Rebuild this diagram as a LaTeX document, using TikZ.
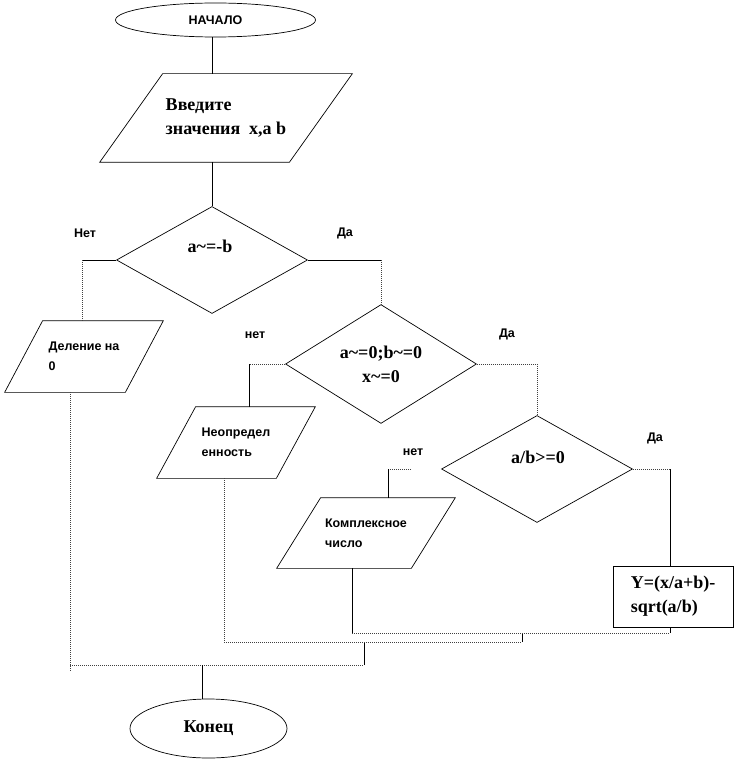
\documentclass[tikz,border=0pt]{standalone}
\usepackage{fontspec}
\setmainfont{Liberation Serif}
\setsansfont{Liberation Sans}
\usetikzlibrary{shapes.geometric}

\begin{document}
\begin{tikzpicture}[x=1pt,y=-1pt,line width=0.7pt,
        bigtext/.style={font=\fontsize{18}{24}\selectfont\bfseries,align=left,inner sep=0pt},
        smalltext/.style={font=\sffamily\bfseries\fontsize{12.5}{20}\selectfont,align=left,inner sep=0pt},
        term/.style={ellipse,draw,inner sep=0pt},
        iobox/.style={rectangle,inner sep=0pt},
        cond/.style={diamond,draw,minimum width=191,minimum height=107,inner sep=0pt},
        dots/.style={black!75,dash pattern=on 1pt off 1pt}]
        \useasboundingbox (0,0) rectangle (735,762);

        % Start and input
        \node[term,minimum width=200,minimum height=34,smalltext] (nachalo) at (215.5,20) {НАЧАЛО};
        \node[iobox,minimum width=252,minimum height=88,bigtext] (vvod) at (226,118) {Введите\\значения\ \ x,a b};

        % Conditions
        \node[cond] (usl1) at (212,260) {};
        \node[bigtext] (usl1txt) at (210,246) {a\textasciitilde=-b};
        \node[cond,bigtext,align=center] (usl2) at (381,364) {a\textasciitilde=0;b\textasciitilde=0\\x\textasciitilde=0};
        \node[cond] (usl3) at (537,469) {};
        \node[bigtext] (usl3txt) at (538,457) {a/b>=0};

        % Outputs
        \node[iobox,minimum width=158,minimum height=71,smalltext] (del) at (84,356.5) {Деление на\\0};
        \node[iobox,minimum width=158,minimum height=71,smalltext] (neopr) at (236,442.5) {Неопредел\\енность};
        \node[iobox,minimum width=178,minimum height=70,smalltext] (kompl) at (366,533) {Комплексное\\число};
        \node[draw,minimum width=120,minimum height=61,bigtext] (itog) at (673,596.5) {Y=(x/a+b)-\\sqrt(a/b)};

        % Slanted sides of the input and output boxes
        \foreach \n/\s in {vvod/63, del/38, neopr/39, kompl/44} {
            \draw ([xshift=\s]\n.north west) -- (\n.north east)
                -- ([xshift=-\s]\n.south east) -- (\n.south west) -- cycle;
        }

        % End
        \node[term,minimum width=157,minimum height=59,bigtext] (konec) at (208.5,728.5) {Конец};

        % Branch labels
        \foreach \name/\x/\y/\txt in {l1/85/233/Нет, r1/345/233/Да, l2/255/335/нет,
                r2/507/334/Да, l3/413/452/нет, r3/655/438/Да} {
            \node[smalltext] (lab\name) at (\x,\y) {\txt};
        }

        % Corner points of the connectors
        \coordinate (ne1) at (82,260);
        \coordinate (da1) at (381,260);
        \coordinate (ne2) at (249,364);
        \coordinate (da2) at (537,364);
        \coordinate (ne3) at (411,469);
        \coordinate (ne3b) at (388,469);
        \coordinate (da3) at (670,469);
        \coordinate (j1) at (70,665);
        \coordinate (j1b) at (70,672);
        \coordinate (j2) at (364,665);
        \coordinate (j3) at (364,642);
        \coordinate (j4) at (224,642);
        \coordinate (j5) at (522,642);
        \coordinate (j6) at (522,633);
        \coordinate (j7) at (352,633);
        \coordinate (j8) at (670,633);
        \coordinate (j9) at (202,665);

        % Main line
        \draw (nachalo.south -| usl1) -- (usl1 |- vvod.north);
        \draw (vvod.south -| usl1) -- (usl1.north);

        % First condition
        \draw (usl1.west) -- (ne1);
        \draw[dots] (ne1) -- (ne1 |- del.north);
        \draw (usl1.east) -- (da1);
        \draw[dots] (da1) -- (usl2.north);

        % Second condition
        \draw[dots] (usl2.west) -- (ne2);
        \draw (ne2) -- (ne2 |- neopr.north);
        \draw[dots] (usl2.east) -- (da2) -- (usl3.north);

        % Third condition
        \draw[dots] (usl3.east) -- (da3);
        \draw (da3) -- (da3 |- itog.north);
        \draw[dots] (ne3) -- (ne3b);
        \draw (ne3b) -- (ne3b |- kompl.north);

        % Joining lines at the bottom
        \draw[dots] (del.south -| j1) -- (j1b);
        \draw[dots] (j1) -- (j2);
        \draw (j2) -- (j3);
        \draw[dots] (neopr.south -| j4) -- (j4) -- (j5);
        \draw (j5) -- (j6);
        \draw (kompl.south -| j7) -- (j7);
        \draw[dots] (j7) -- (j8);
        \draw (itog.south -| j8) -- (j8);
        \draw (j9) -- (j9 |- konec.north);

    \end{tikzpicture}
\end{document}
